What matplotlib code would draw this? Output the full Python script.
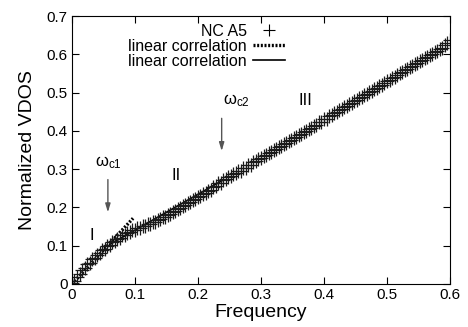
import matplotlib
matplotlib.use("Agg")
import matplotlib.pyplot as plt
import matplotlib.lines as mlines

plt.rcParams["font.family"] = ["Liberation Sans", "DejaVu Sans"]

# ---------------------------------------------------------------------------
# Data
# ---------------------------------------------------------------------------
freq = [
    0.000, 0.004, 0.008, 0.012, 0.016, 0.020, 0.024, 0.028, 0.032, 0.036,
    0.040, 0.044, 0.048, 0.052, 0.056, 0.060, 0.064, 0.068, 0.072, 0.076,
    0.080, 0.084, 0.088, 0.092, 0.096, 0.100, 0.104, 0.108, 0.112, 0.116,
    0.120, 0.124, 0.128, 0.132, 0.136, 0.140, 0.144, 0.148, 0.152, 0.156,
    0.160, 0.164, 0.168, 0.172, 0.176, 0.180, 0.184, 0.188, 0.192, 0.196,
    0.200, 0.204, 0.208, 0.212, 0.216, 0.220, 0.224, 0.228, 0.232, 0.236,
    0.240, 0.244, 0.248, 0.252, 0.256, 0.260, 0.264, 0.268, 0.272, 0.276,
    0.280, 0.284, 0.288, 0.292, 0.296, 0.300, 0.304, 0.308, 0.312, 0.316,
    0.320, 0.324, 0.328, 0.332, 0.336, 0.340, 0.344, 0.348, 0.352, 0.356,
    0.360, 0.364, 0.368, 0.372, 0.376, 0.380, 0.384, 0.388, 0.392, 0.396,
    0.400, 0.404, 0.408, 0.412, 0.416, 0.420, 0.424, 0.428, 0.432, 0.436,
    0.440, 0.444, 0.448, 0.452, 0.456, 0.460, 0.464, 0.468, 0.472, 0.476,
    0.480, 0.484, 0.488, 0.492, 0.496, 0.500, 0.504, 0.508, 0.512, 0.516,
    0.520, 0.524, 0.528, 0.532, 0.536, 0.540, 0.544, 0.548, 0.552, 0.556,
    0.560, 0.564, 0.568, 0.572, 0.576, 0.580, 0.584, 0.588, 0.592, 0.596,
    0.600,
]
vdos = [
    0.002, 0.009, 0.018, 0.026, 0.036, 0.041, 0.051, 0.056, 0.065, 0.069,
    0.077, 0.080, 0.088, 0.091, 0.099, 0.102, 0.109, 0.112, 0.118, 0.120,
    0.127, 0.129, 0.134, 0.135, 0.140, 0.141, 0.146, 0.146, 0.151, 0.151,
    0.156, 0.157, 0.162, 0.163, 0.168, 0.169, 0.174, 0.176, 0.181, 0.183,
    0.188, 0.190, 0.196, 0.198, 0.204, 0.206, 0.212, 0.214, 0.220, 0.222,
    0.228, 0.230, 0.236, 0.238, 0.244, 0.246, 0.253, 0.256, 0.263, 0.265,
    0.272, 0.273, 0.279, 0.281, 0.287, 0.289, 0.295, 0.296, 0.302, 0.304,
    0.310, 0.312, 0.318, 0.320, 0.326, 0.328, 0.334, 0.336, 0.342, 0.344,
    0.350, 0.352, 0.358, 0.360, 0.366, 0.368, 0.374, 0.376, 0.382, 0.384,
    0.390, 0.392, 0.398, 0.400, 0.406, 0.408, 0.414, 0.416, 0.422, 0.424,
    0.430, 0.432, 0.438, 0.441, 0.446, 0.449, 0.454, 0.457, 0.462, 0.465,
    0.470, 0.473, 0.478, 0.481, 0.486, 0.489, 0.494, 0.497, 0.502, 0.505,
    0.510, 0.513, 0.518, 0.521, 0.526, 0.529, 0.534, 0.537, 0.542, 0.545,
    0.550, 0.553, 0.558, 0.561, 0.566, 0.569, 0.574, 0.577, 0.582, 0.585,
    0.590, 0.593, 0.598, 0.601, 0.606, 0.609, 0.614, 0.617, 0.624, 0.629,
    0.637,
]

# linear fits: (x_start, x_end, slope, intercept)
fit_low = (0.0, 0.097, 1.77, 0.0)      # region I  (dotted)
fit_mid = (0.06, 0.24, 0.936, 0.047)   # region II (solid)

ticks_x = [0.0, 0.1, 0.2, 0.3, 0.4, 0.5, 0.6]
ticks_y = [0.0, 0.1, 0.2, 0.3, 0.4, 0.5, 0.6, 0.7]
labels_x = ["0", "0.1", "0.2", "0.3", "0.4", "0.5", "0.6"]
labels_y = ["0", "0.1", "0.2", "0.3", "0.4", "0.5", "0.6", "0.7"]

# ---------------------------------------------------------------------------
# Figure
# ---------------------------------------------------------------------------
fig = plt.figure(figsize=(4.68, 3.27), dpi=100)
ax = fig.add_axes([0.1538, 0.1315, 0.8077, 0.8195])

x0, x1, m, b = fit_mid
ax.plot([x0, x1], [m * x0 + b, m * x1 + b], color="black", lw=1.2, zorder=1)
x0, x1, m, b = fit_low
ax.plot([x0, x1], [m * x0 + b, m * x1 + b], color="black", lw=2.4,
        linestyle=(0, (0.6, 0.5)), zorder=1)

ax.plot(freq, vdos, linestyle="none", marker="+", markersize=10,
        markeredgewidth=0.9, color="#1a1a1a", zorder=2)

# crossover arrows
arrow_kw = dict(arrowstyle="-|>,head_length=0.5,head_width=0.15",
                color="#555555", lw=1.0)
ax.annotate("", xy=(0.057, 0.18), xytext=(0.057, 0.28), arrowprops=arrow_kw)
ax.annotate("", xy=(0.2376, 0.34), xytext=(0.2376, 0.44), arrowprops=arrow_kw)
ax.text(0.036, 0.316, r"$\mathregular{\omega_{c1}}$", fontsize=12,
        ha="left", va="center")
ax.text(0.239, 0.478, r"$\mathregular{\omega_{c2}}$", fontsize=12,
        ha="left", va="center")

# region labels
ax.text(0.031, 0.127, "I", fontsize=12, ha="center", va="center")
ax.text(0.165, 0.283, "II", fontsize=12, ha="center", va="center")
ax.text(0.371, 0.480, "III", fontsize=12, ha="center", va="center")

ax.set_xlim(0, 0.6)
ax.set_ylim(0, 0.7)
ax.set_xticks(ticks_x)
ax.set_xticklabels(labels_x)
ax.set_yticks(ticks_y)
ax.set_yticklabels(labels_y)
ax.tick_params(direction="in", top=True, right=True, length=5,
               labelsize=11, pad=3)
ax.set_xlabel("Frequency", fontsize=14, labelpad=1)
ax.set_ylabel("Normalized VDOS", fontsize=14, labelpad=8)

# legend
h_pts = mlines.Line2D([], [], linestyle="none", marker="+", markersize=8,
                      markeredgewidth=0.8, color="black", label="NC A5")
h_dot = mlines.Line2D([], [], color="black", lw=2.4,
                      linestyle=(0, (0.6, 0.5)), label="linear correlation")
h_sol = mlines.Line2D([], [], color="black", lw=1.2,
                      label="linear correlation")
ax.legend(handles=[h_pts, h_dot, h_sol], loc="upper right",
          bbox_to_anchor=(0.585, 1.0), frameon=False, markerfirst=False,
          fontsize=11.5, handlelength=2.0, handletextpad=0.4,
          labelspacing=0.0, borderpad=0.3, borderaxespad=0.2)

fig.savefig("out.png", dpi=100)
